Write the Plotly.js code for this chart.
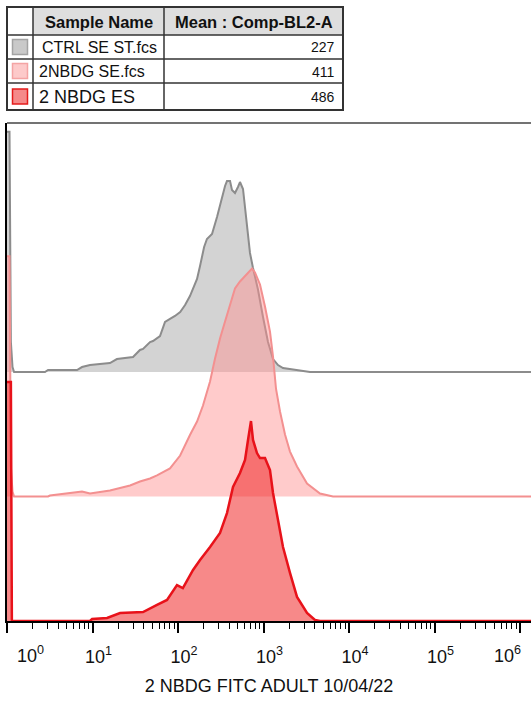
<!DOCTYPE html>
<html>
<head>
<meta charset="utf-8">
<script src="https://cdn.plot.ly/plotly-3.0.1.min.js"></script>
<style>
  html, body { margin: 0; padding: 0; background: #ffffff; overflow: hidden; }
  #chart { width: 531px; height: 701px; }
</style>
</head>
<body>
<div id="chart"></div>
<script>
// ---- Sample statistics table ----
const tableHeaders = ['Sample Name', 'Mean : Comp-BL2-A'];
const sampleNames = ['CTRL SE ST.fcs', '2NBDG SE.fcs', '2 NBDG ES'];
const meanValues = [227, 411, 486];

// ---- Histograms: Comp-BL2-A intensity vs. event count (per sample) ----
const ctrlX = [1, 1.07, 1.11, 1.16, 1.21, 2.78, 3.02, 6.59, 7.54, 9.35, 12.2, 16.0, 19.3, 24.0, 29.8,
  35.9, 39.0, 47.1, 51.0, 61.6, 65.0, 70.5, 80.6, 92.2, 106, 121, 138, 167, 181, 202, 218, 250,
  286, 327, 355, 374, 406, 428, 464, 503, 531, 576, 641, 695, 754, 862, 987, 1129, 1292, 1478,
  1691, 2041, 2673, 3499, 2000000];
const ctrlY = [193, 193, 24, 4, 0, 0, 1.6, 1.6, 4, 5.6, 6.4, 7.2, 10.4, 11.2, 12,
  17.7, 18.5, 24.1, 24.9, 28.9, 32.9, 40.2, 42.6, 45, 48.2, 53.8, 61, 74.7, 85.1, 100.4, 106.8, 110.8,
  124.5, 141.4, 149.4, 153.4, 153.4, 146.2, 143.8, 148.6, 152.6, 147, 117.3, 95.6, 83.5, 66.3, 44.2, 24.1, 10.4, 5.6,
  3.2, 2.4, 0.8, 0, 0];

const seX = [1, 1.07, 1.11, 1.16, 1.21, 3.02, 3.18, 6.59, 7.54, 9.35, 16.0, 27.5, 35.9, 47.1, 56.8,
  80.6, 106, 138, 167, 196, 237, 271, 310, 355, 406, 464, 531, 641, 734, 795, 910, 1041, 1191,
  1292, 1400, 1560, 1785, 2041, 2466, 3228, 4580, 6502, 2000000];
const seY = [193, 193, 24, 4, 0, 0, 0.8, 3.2, 4, 2.4, 4.8, 8.8, 12, 14.5, 16.9,
  22.5, 32.9, 49.4, 60.2, 73.1, 92.4, 110.8, 126.9, 140.6, 153.4, 167.1, 172.7, 179.1, 183.1, 179.9, 170.3, 152.6, 132.5,
  112.4, 86.7, 68.3, 49.8, 36.1, 24.1, 10.4, 2.4, 0, 0];

const esX = [1, 1.11, 1.14, 9.35, 9.9, 14.8, 21.0, 39.0, 56.8, 74.4, 97.3, 114, 150, 181, 237, 310,
  374, 440, 531, 608, 659, 714, 754, 839, 910, 1041, 1191, 1292, 1478, 1691, 2041, 2466, 3228,
  4003, 4580, 2000000];
const esY = [192, 192, 0, 0, 1.6, 2.4, 6.4, 7.2, 12.9, 16.9, 28.9, 26.5, 41, 49, 59.4, 70.7,
  86.7, 107.6, 118.9, 129.3, 145.4, 160.6, 145.4, 134.9, 130.9, 130.9, 121.3, 102.8, 81.1, 59.4, 38.6, 19.3, 6.4,
  0.8, 0, 0];

// ---- Axis ticks ----
const tickVals = [1, 10, 100, 1000, 10000, 100000, 1000000];
const tickText = ['10<sup>0</sup>', '10<sup>1</sup>', '10<sup>2</sup>', '10<sup>3</sup>',
  '10<sup>4</sup>', '10<sup>5</sup>', '10<sup>6</sup>'];
const axisTitle = '2 NBDG FITC ADULT 10/04/22';

// ---- Styling ----
const FONT = 'Liberation Sans, Arial, sans-serif';
const series = [
  { x: ctrlX, y: ctrlY, offset: 200, line: '#8c8c8c', width: 2, fill: 'rgba(128,128,128,0.35)',
    swatchFill: '#c9c9c9', swatchLine: '#a3a3a3' },
  { x: seX, y: seY, offset: 100, line: '#f39090', width: 2, fill: 'rgba(255,145,145,0.47)',
    swatchFill: '#fdcaca', swatchLine: '#f4a4a4' },
  { x: esX, y: esY, offset: 0, line: '#e8121a', width: 2.5, fill: 'rgba(240,40,40,0.55)',
    swatchFill: '#f58a8a', swatchLine: '#e41c1c' }
];
const X_MAX_LOG = 6.1287;

// stacked (offset) histograms: invisible baseline + filled outline per sample
const traces = [];
series.forEach(s => {
  traces.push({
    type: 'scatter', mode: 'lines', x: [1, 2000000], y: [s.offset, s.offset],
    line: { width: 0, color: 'rgba(0,0,0,0)' }, hoverinfo: 'skip', showlegend: false
  });
  traces.push({
    type: 'scatter', mode: 'lines', x: s.x, y: s.y.map(v => v + s.offset),
    fill: 'tonexty', fillcolor: s.fill,
    line: { color: s.line, width: s.width, shape: 'linear' },
    hoverinfo: 'skip', showlegend: false
  });
});

// plot area geometry in pixels (for placing the table above it)
const M = { l: 7, r: 0, t: 123, b: 80 };
const W = 531, H = 701;
const plotW = W - M.l - M.r, plotH = H - M.t - M.b;
const px2x = px => (px - M.l) / plotW;
const py2y = py => (H - M.b - py) / plotH;

// table grid
const colEdges = [7, 33, 164, 343];
const rowEdges = [7, 35, 59, 83, 110];
const shapes = [];
const annotations = [];

// header background
shapes.push({ type: 'rect', xref: 'paper', yref: 'paper',
  x0: px2x(colEdges[1]), x1: px2x(colEdges[3]), y0: py2y(rowEdges[1]), y1: py2y(rowEdges[0]),
  fillcolor: '#dedede', line: { width: 0 } });
// inner grid lines
rowEdges.slice(1, -1).forEach(r => shapes.push({ type: 'line', xref: 'paper', yref: 'paper',
  x0: px2x(colEdges[0]), x1: px2x(colEdges[3]), y0: py2y(r), y1: py2y(r),
  line: { color: '#333333', width: 1.5 } }));
colEdges.slice(1, -1).forEach(c => shapes.push({ type: 'line', xref: 'paper', yref: 'paper',
  x0: px2x(c), x1: px2x(c), y0: py2y(rowEdges[0]), y1: py2y(rowEdges[4]),
  line: { color: '#333333', width: 1.5 } }));
// outer border
shapes.push({ type: 'rect', xref: 'paper', yref: 'paper',
  x0: px2x(colEdges[0]), x1: px2x(colEdges[3]), y0: py2y(rowEdges[4]), y1: py2y(rowEdges[0]),
  line: { color: '#333333', width: 2 }, fillcolor: 'rgba(0,0,0,0)' });

// header labels
tableHeaders.forEach((h, i) => annotations.push({
  xref: 'paper', yref: 'paper', showarrow: false,
  x: px2x((colEdges[i + 1] + colEdges[i + 2]) / 2), y: py2y((rowEdges[0] + rowEdges[1]) / 2 + 1),
  xanchor: 'center', yanchor: 'middle', text: '<b>' + h + '</b>',
  font: { family: FONT, size: 16.5, color: '#111111' }
}));

// sample rows
sampleNames.forEach((name, i) => {
  const yc = (rowEdges[i + 1] + rowEdges[i + 2]) / 2;
  const s = series[i];
  shapes.push({ type: 'rect', xref: 'paper', yref: 'paper',
    x0: px2x(12.5), x1: px2x(27.5), y0: py2y(yc + 7.5), y1: py2y(yc - 7.5),
    fillcolor: s.swatchFill, line: { color: s.swatchLine, width: 1.5 } });
  annotations.push({ xref: 'paper', yref: 'paper', showarrow: false,
    x: px2x(i === 0 ? 40 : 37), y: py2y(yc + 0.5), xanchor: 'left', yanchor: 'middle', text: name,
    font: { family: FONT, size: i === 2 ? 18 : 16, color: '#111111' } });
  annotations.push({ xref: 'paper', yref: 'paper', showarrow: false,
    x: px2x(337), y: py2y(yc + 0.5), xanchor: 'right', yanchor: 'middle', text: String(meanValues[i]),
    font: { family: FONT, size: 14, color: '#111111' } });
});

// frame top edge
shapes.push({ type: 'line', xref: 'paper', yref: 'paper', x0: 0, x1: 1, y0: 1, y1: 1,
  line: { color: '#444444', width: 1.5 } });

// the two end labels are kept inside the figure edges
const last = tickVals.length - 1;
const edgeLabels = [
  { i: 0, anchor: 'left', shift: 8 },
  { i: last, anchor: 'right', shift: 3 }
];
edgeLabels.forEach(e => annotations.push({
  xref: 'x', yref: 'paper', showarrow: false,
  x: Math.log10(tickVals[e.i]), xanchor: e.anchor, xshift: e.shift,
  y: py2y(641), yanchor: 'top', text: tickText[e.i],
  font: { family: FONT, size: 18, color: '#111111' }
}));
const axisTickText = tickText.map((t, i) => (i === 0 || i === last) ? '' : t);

// minor tick positions (2..9 within each decade)
const minorVals = [];
for (let k = 0; k < 6; k++) for (let m = 2; m <= 9; m++) minorVals.push(m * Math.pow(10, k));

const layout = {
  width: W, height: H, margin: M,
  paper_bgcolor: '#ffffff', plot_bgcolor: '#ffffff',
  showlegend: false,
  xaxis: {
    type: 'log', range: [0, X_MAX_LOG], tickmode: 'array', tickvals: tickVals, ticktext: axisTickText,
    ticks: 'outside', ticklen: 10, tickwidth: 2, tickcolor: '#000000',
    minor: { tickmode: 'array', tickvals: minorVals, ticks: 'outside', ticklen: 6, tickwidth: 1, tickcolor: '#000000', showgrid: false },
    showline: true, linecolor: '#000000', linewidth: 2, showgrid: false, zeroline: false,
    layer: 'above traces', ticklabelshift: 6, ticklabelstandoff: 8,
    tickfont: { family: FONT, size: 18, color: '#111111' },
    title: { text: axisTitle, font: { family: FONT, size: 18, color: '#111111' }, standoff: 14 },
    fixedrange: true
  },
  yaxis: {
    range: [0, 400], showticklabels: false, ticks: '', showline: true, linecolor: '#000000', linewidth: 2,
    showgrid: false, zeroline: false, layer: 'above traces', fixedrange: true
  },
  shapes: shapes,
  annotations: annotations
};

Plotly.newPlot('chart', traces, layout, { staticPlot: true, displayModeBar: false });
</script>
</body>
</html>
